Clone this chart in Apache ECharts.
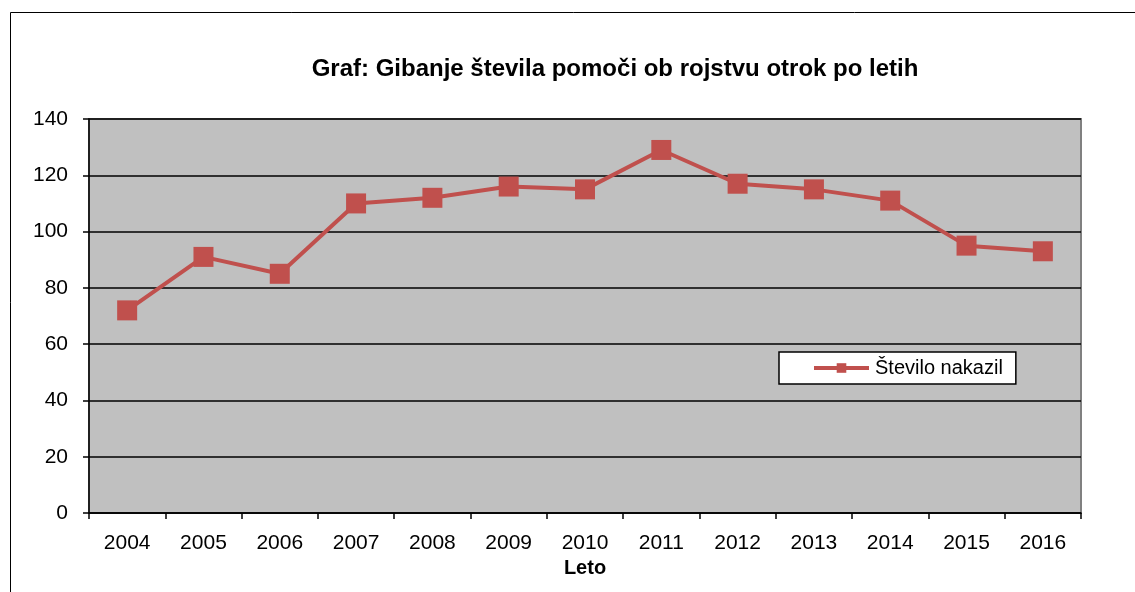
<!DOCTYPE html>
<html><head><meta charset="utf-8">
<script src="https://cdn.jsdelivr.net/npm/echarts@6/dist/echarts.min.js"></script>
<style>html,body{margin:0;padding:0;background:#fff}#c{width:1135px;height:592px}</style>
</head><body><div id="c"></div>
<script>
const years = ['2004','2005','2006','2007','2008','2009','2010','2011','2012','2013','2014','2015','2016'];
const nakazila = [72, 91, 85, 110, 112, 116, 115, 129, 117, 115, 111, 95, 93];
const yTicks = {min: 0, max: 140, interval: 20};
const titleText = 'Graf: Gibanje števila pomoči ob rojstvu otrok po letih';
const seriesName = 'Število nakazil';
const xName = 'Leto';

const chart = echarts.init(document.getElementById('c'), null, {renderer: 'canvas'});
const font = 'Liberation Sans, Arial, sans-serif';
chart.setOption({
  backgroundColor: '#fff',
  animation: false,
  graphic: [{
    type: 'rect', shape: {x: 10.5, y: 12.5, width: 1140, height: 600},
    style: {fill: 'none', stroke: '#000', lineWidth: 1}, silent: true, z: -1
  }],
  title: {
    text: titleText, left: 610, top: 52, textAlign: 'center',
    textStyle: {fontFamily: font, fontSize: 24, fontWeight: 'bold', color: '#000'}
  },
  legend: {
    left: 779, top: 352,
    data: [seriesName],
    backgroundColor: '#fff', borderColor: '#000', borderWidth: 1.5, borderRadius: 0,
    padding: [6, 13, 6, 33],
    itemWidth: 55, itemHeight: 12,
    lineStyle: {width: 4, color: '#C0504D'},
    textStyle: {fontFamily: font, fontSize: 20, color: '#000', padding: [0,0,0,1]}
  },
  grid: {
    left: 89, right: 54, top: 119, bottom: 79,
    show: true, backgroundColor: '#C0C0C0', borderColor: '#808080', borderWidth: 2
  },
  xAxis: {
    type: 'category', data: years, boundaryGap: true,
    name: xName, nameLocation: 'middle', nameGap: 45,
    nameTextStyle: {fontFamily: font, fontSize: 20, fontWeight: 'bold', color: '#000'},
    axisLine: {lineStyle: {color: '#000', width: 1.5}},
    axisTick: {show: true, alignWithLabel: false, length: 6, lineStyle: {color: '#000', width: 1.5}},
    axisLabel: {fontFamily: font, fontSize: 21, color: '#000', margin: 20}
  },
  yAxis: {
    type: 'value', min: yTicks.min, max: yTicks.max, interval: yTicks.interval,
    axisLine: {show: true, lineStyle: {color: '#000', width: 1.5}},
    axisTick: {show: true, length: 6, lineStyle: {color: '#000', width: 1.5}},
    axisLabel: {fontFamily: font, fontSize: 21, color: '#000', margin: 21},
    splitLine: {show: true, lineStyle: {color: '#000', width: 1.5}}
  },
  series: [{
    name: seriesName, type: 'line', data: nakazila,
    symbol: 'rect', symbolSize: 20,
    lineStyle: {color: '#C0504D', width: 4},
    itemStyle: {color: '#C0504D', opacity: 1},
    z: 3
  }]
});
</script></body></html>
